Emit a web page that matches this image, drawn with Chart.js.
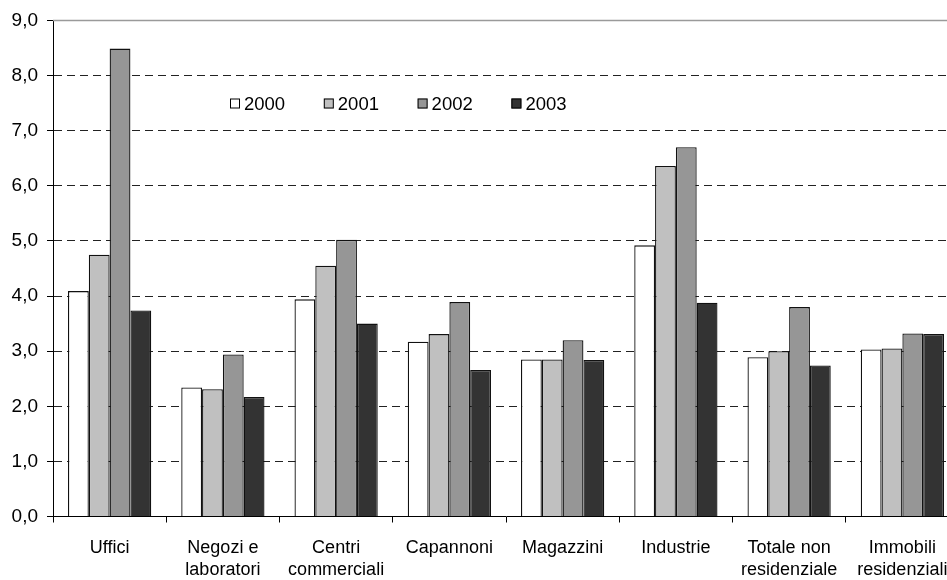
<!DOCTYPE html>
<html lang="it">
<head>
<meta charset="utf-8">
<title>Variazione canoni</title>
<script src="https://cdn.jsdelivr.net/npm/chart.js@4"></script>
<style>
    html, body { margin: 0; padding: 0; background: #ffffff; overflow: hidden; }
    #wrap { width: 947px; height: 580px; overflow: hidden; }
    canvas { display: block; }
</style>
</head>
<body>
<div id="wrap"><canvas id="barChartCanvas" width="966" height="580"></canvas></div>
<script>
// カテゴリ（2行ラベルは配列で）
const categories = [
    ['Uffici'],
    ['Negozi e', 'laboratori'],
    ['Centri', 'commerciali'],
    ['Capannoni'],
    ['Magazzini'],
    ['Industrie'],
    ['Totale non', 'residenziale'],
    ['Immobili', 'residenziali'],
];
const years = ['2000', '2001', '2002', '2003'];

// 年ごとの値
const values2000 = [4.09, 2.34, 3.94, 3.17, 2.85, 4.92, 2.89, 3.03];
const values2001 = [4.75, 2.31, 4.55, 3.31, 2.85, 6.36, 3.0, 3.05];
const values2002 = [8.49, 2.94, 5.02, 3.89, 3.2, 6.7, 3.8, 3.32];
const values2003 = [3.74, 2.17, 3.5, 2.66, 2.84, 3.88, 2.74, 3.31];

// Y軸の範囲
const yMin = 0;
const yMax = 9;
const yStep = 1;

const seriesColors = ['#ffffff', '#c0c0c0', '#969696', '#333333'];
const FONT_FAMILY = "'Liberation Sans', Arial, sans-serif";

/**
 * 棒グラフ描画クラス
 */
class YearBarChart {
    /**
     * プロット上部の枠線（灰色の実線）
     */
    static topBorderPlugin = {
        id: 'topBorder',
        afterDraw: (chart) => {
            const { ctx, chartArea } = chart;
            ctx.save();
            ctx.strokeStyle = '#9a9a9a';
            ctx.lineWidth = 1.5;
            ctx.beginPath();
            ctx.moveTo(chartArea.left, chartArea.top);
            ctx.lineTo(chartArea.right, chartArea.top);
            ctx.stroke();
            ctx.restore();
        },
    };

    /**
     * プロット内部に凡例を描く
     */
    static innerLegendPlugin = {
        id: 'innerLegend',
        afterDraw: (chart) => {
            const { ctx, chartArea } = chart;
            const left = chartArea.left + 177;
            const top = chartArea.top + 78;
            const step = 93.8;
            const box = 10;

            ctx.save();
            ctx.font = `18.5px ${FONT_FAMILY}`;
            ctx.textAlign = 'left';
            ctx.textBaseline = 'middle';
            chart.data.datasets.forEach((dataset, i) => {
                const x = left + step * i;
                ctx.fillStyle = dataset.backgroundColor;
                ctx.fillRect(x, top, box, box);
                ctx.strokeStyle = '#000000';
                ctx.lineWidth = 1;
                ctx.strokeRect(x + 0.5, top + 0.5, box - 1, box - 1);
                ctx.fillStyle = '#000000';
                ctx.fillText(dataset.label, x + 14, top + box / 2 + 1);
            });
            ctx.restore();
        },
    };

    /**
     * グラフを作成する
     * @return {Chart} Chart.jsのインスタンス
     */
    static draw() {
        const canvas = document.querySelector('#barChartCanvas');
        const ctx = canvas.getContext('2d');
        const seriesValues = [values2000, values2001, values2002, values2003];

        const datasets = years.map((year, i) => ({
            label: year,
            data: seriesValues[i],
            backgroundColor: seriesColors[i],
            borderColor: '#111111',
            borderWidth: 1.3,
            categoryPercentage: 0.735,
            barPercentage: 1.0,
        }));

        return new Chart(ctx, {
            type: 'bar',
            data: { labels: categories, datasets: datasets },
            options: {
                responsive: false,
                animation: false,
                devicePixelRatio: 1,
                layout: { padding: { top: 20.5, right: 7, left: 0, bottom: 0 } },
                plugins: {
                    legend: { display: false },
                    tooltip: { enabled: false },
                },
                scales: {
                    x: {
                        afterFit: (scale) => { scale.height = 63.5; },
                        grid: {
                            offset: true,
                            drawOnChartArea: false,
                            drawTicks: true,
                            tickLength: 6,
                            tickColor: '#000000',
                        },
                        border: { color: '#000000', width: 1 },
                        ticks: {
                            color: '#000000',
                            padding: 15,
                            maxRotation: 0,
                            autoSkip: false,
                            font: { family: FONT_FAMILY, size: 18, lineHeight: 1.2 },
                        },
                    },
                    y: {
                        min: yMin,
                        max: yMax,
                        afterFit: (scale) => { scale.width = 53; },
                        grid: {
                            color: '#222222',
                            lineWidth: 1,
                            drawTicks: true,
                            tickLength: 6,
                            tickColor: '#000000',
                            tickBorderDash: [],
                        },
                        border: { color: '#000000', width: 1, dash: [8, 5] },
                        ticks: {
                            stepSize: yStep,
                            color: '#000000',
                            padding: 9,
                            font: { family: FONT_FAMILY, size: 19 },
                            callback: (value) => value.toFixed(1).replace('.', ','),
                        },
                    },
                },
            },
            plugins: [YearBarChart.topBorderPlugin, YearBarChart.innerLegendPlugin],
        });
    }
}

YearBarChart.draw();
</script>
</body>
</html>
